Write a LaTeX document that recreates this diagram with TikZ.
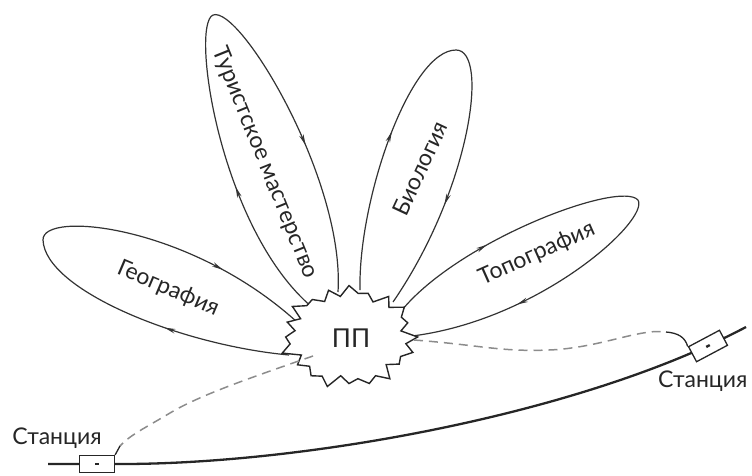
\documentclass[tikz,border=0pt]{standalone}
\usepackage{fontspec}
\setmainfont{Lato}
\usetikzlibrary{decorations.markings,arrows.meta,calc}
\begin{document}
\begin{tikzpicture}[x=1pt,y=-1pt,
  petal/.style={draw=black!80, line width=1.2pt},
  amark/.style={postaction={decorate},decoration={markings,
      mark=at position #1 with {\arrow{Stealth[length=11pt,width=4.6pt]}}}},
  lbl/.style={font=\fontsize{23}{26}\selectfont, text=black!85, inner sep=0pt},
  track/.style={draw=black!85, line width=2.3pt},
  route/.style={draw=black!45, line width=1.5pt, dash pattern=on 9pt off 6pt},
  routeend/.style={draw=black!85, line width=1.3pt},
  stationbox/.style={draw=black!85, line width=1.3pt, fill=white, minimum width=35pt, minimum height=17pt, inner sep=0pt},
  jag/.style={draw=black!85, line width=1.4pt, fill=white, line join=miter},
  declare function={rj(\t)=(1-0.15*mod(round(\t/9),2))*(1+0.05*sin(7*\t)+0.04*cos(13*\t));}
]
\useasboundingbox (0,0) rectangle (752,475);

% petal end points and tips
\coordinate (gB) at (289,355);
\coordinate (gT) at (43,240);
\coordinate (gA) at (297,322);
\coordinate (tL) at (313,308);
\coordinate (tT) at (213,15);
\coordinate (tR) at (338,292);
\coordinate (bL) at (360,290);
\coordinate (bT) at (456,50);
\coordinate (bR) at (393,302);
\coordinate (pU) at (402,310);
\coordinate (pT) at (638,200);
\coordinate (pL) at (412,336);

% Geography
\draw[petal, amark=0.45] (gB) .. controls (180,345) and (45,290) .. (gT);
\draw[petal, amark=0.68] (gT) .. controls (42,210) and (190,225) .. (gA);
% Tourist skills
\draw[petal, amark=0.45] (tL) .. controls (220,230) and (190,25) .. (tT);
\draw[petal, amark=0.52] (tT) .. controls (240,5) and (345,180) .. (tR);
% Biology
\draw[petal, amark=0.6] (bL) .. controls (358,200) and (410,50) .. (bT);
\draw[petal, amark=0.6] (bT) .. controls (490,50) and (470,190) .. (bR);
% Topography
\draw[petal, amark=0.4] (pU) .. controls (460,240) and (620,180) .. (pT);
\draw[petal, amark=0.6] (pT) .. controls (650,220) and (540,320) .. (pL);

% railway
\coordinate (r0) at (48,464);
\coordinate (r1) at (746,327);
\draw[track] (r0) -- (115,464) .. controls (300,465) and (580,415) .. (r1);
\node[stationbox] (s1) at (97,464) {};
\node[stationbox, rotate=28] (s2) at (708,346) {};
\fill[black!85] ($(s1.center)+(-2,-1.2)$) rectangle ++(4,2.4);
\fill[black!85, rotate around={28:(s2.center)}] ($(s2.center)+(-2,-1.2)$) rectangle ++(4,2.4);

% PP star
\begin{scope}[shift={(349,337)}]
\draw[jag] plot[samples at={0,9,...,351}, variable=\t] (\t:{66*rj(\t)} and {49*rj(\t)}) -- cycle;
\end{scope}
\node[font=\fontsize{26}{28}\selectfont, text=black!85] (pp) at (351,338) {ПП};

% routes from stations
\coordinate (dL0) at (313,356);
\coordinate (dL1) at (120,446);
\draw[route] (dL0) .. controls (250,378) and (200,395) .. (170,413) .. controls (145,428) and (130,435) .. (dL1);
\draw[routeend] (dL1) -- (s1.north east);
\coordinate (dR0) at (414,340);
\coordinate (dR1) at (666,332);
\draw[route] (dR0) .. controls (480,345) and (500,352) .. (549,350) .. controls (600,348) and (640,328) .. (dR1);
\draw[routeend] (dR1) .. controls (678,333) and (685,337) .. (s2.north west);

% labels
\node[lbl, rotate=-23] (lg) at (168,289) {География};
\node[lbl, rotate=-68] (lt) at (265,163) {Туристское мастерство};
\node[lbl, rotate=65] (lb) at (420,168) {Биология};
\node[lbl, rotate=24] (lp) at (537,254) {Топография};
\node[lbl, anchor=center] (ls1) at (57,438) {Станция};
\node[lbl, anchor=west] (ls2) at (658,381) {Станция};
\end{tikzpicture}
\end{document}
